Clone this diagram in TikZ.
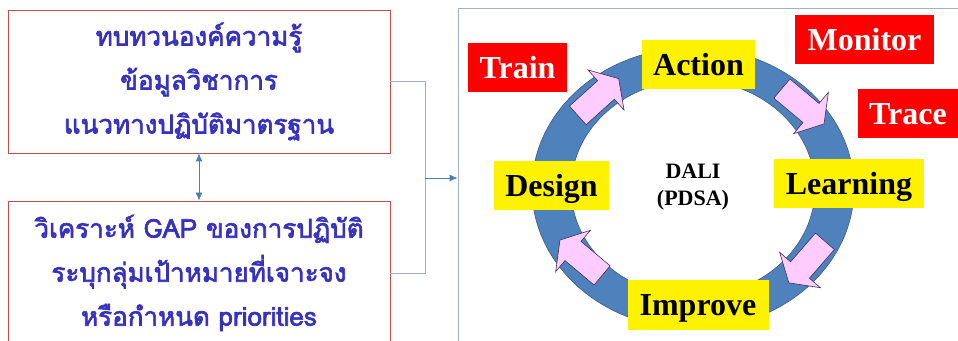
\documentclass[tikz,border=0pt]{standalone}
\usepackage{fontspec}
\setmainfont{Liberation Serif}
\newfontfamily\thaifont[Script=Thai,FakeBold=2.5]{Loma}
\usepackage{xcolor}
\usetikzlibrary{arrows.meta,positioning}
\definecolor{thaiblue}{RGB}{55,50,190}
\definecolor{boxred}{RGB}{192,80,77}
\definecolor{conngray}{RGB}{160,176,200}
\definecolor{linkblue}{RGB}{74,126,187}
\definecolor{ringblue}{RGB}{79,129,189}
\definecolor{ringedge}{RGB}{56,93,138}
\definecolor{arrowpink}{RGB}{255,204,255}
\definecolor{arrowedge}{RGB}{60,50,80}

\tikzset{
  thaibox/.style={draw=boxred, line width=0.8pt, minimum width=382pt, inner sep=0pt,
    text=thaiblue, align=center, font=\thaifont\fontsize{26}{44}\selectfont},
  stage/.style={fill=yellow, inner sep=0pt, minimum height=49pt, text height=26pt, text depth=4pt,
    font=\bfseries\fontsize{32}{36}\selectfont},
  tag/.style={stage, fill=red, text=white},
  pinkarrow/.style={fill=arrowpink, draw=arrowedge, line width=0.6pt, line join=miter},
  cycarrow/.pic={\path[pinkarrow] (-38,-12.5) -- (0,-12.5) -- (0,-27) -- (17,0) -- (0,27) -- (0,12.5) -- (-38,12.5) -- cycle;}
}

\begin{document}
\begin{tikzpicture}[x=1pt, y=1pt, >={Latex[length=8pt,width=7pt]}]
\useasboundingbox (0,0) rectangle (958,340);
\clip (0,0) rectangle (958,340);

% left column
\node[thaibox, minimum height=143pt] (review) at (199,258.5)
  {ทบทวนองค์ความรู้\\ข้อมูลวิชาการ\\แนวทางปฏิบัติมาตรฐาน};
\node[thaibox, minimum height=144pt] (gap) at (199,67)
  {วิเคราะห์ GAP ของการปฏิบัติ\\ระบุกลุ่มเป้าหมายที่เจาะจง\\หรือกำหนด priorities};
\draw[<->, linkblue, line width=0.8pt] (review.south) -- (gap.north);

% right panel
\node[draw=conngray, line width=0.8pt, minimum width=507pt, minimum height=337pt] (panel) at (711.5,163.5) {};

% bracket into the panel
\coordinate (joint) at (425,162);
\draw[conngray, line width=0.8pt] (review.east) -- (review.east -| joint) -- (gap.east -| joint) -- (gap.east);
\draw[->, linkblue, line width=0.8pt] (joint) -- (panel.west |- joint);

% ring
\path[fill=ringblue, draw=ringedge, line width=0.6pt, even odd rule]
  (693,151.7) ellipse [x radius=161, y radius=140.6]
  (693,151.7) ellipse [x radius=122, y radius=108.3];
\pic[rotate=42] at (606,250) {cycarrow};
\pic[rotate=-40] at (811,227) {cycarrow};
\pic[rotate=-131] at (800,70) {cycarrow};
\pic[rotate=140] at (573,89) {cycarrow};

% stages
\node[stage, minimum width=113pt] (action) at (698.5,275) {Action};
\node[stage, minimum width=115pt] (design) at (551.5,154.5) {Design};
\node[stage, minimum width=150pt] (learning) at (849,156.5) {Learning};
\node[stage, minimum width=141pt] (improve) at (698,35) {Improve};
\node[align=center, font=\bfseries\fontsize{22}{27}\selectfont] (dali) at (693,153) {DALI\\(PDSA)};

% tags
\node[tag, minimum width=99pt] (train) at (517.5,272) {Train};
\node[tag, minimum width=139pt] (monitor) at (864.5,300.5) {Monitor};
\node[tag, minimum width=100pt] (trace) at (908,226.5) {Trace};
\end{tikzpicture}
\end{document}
